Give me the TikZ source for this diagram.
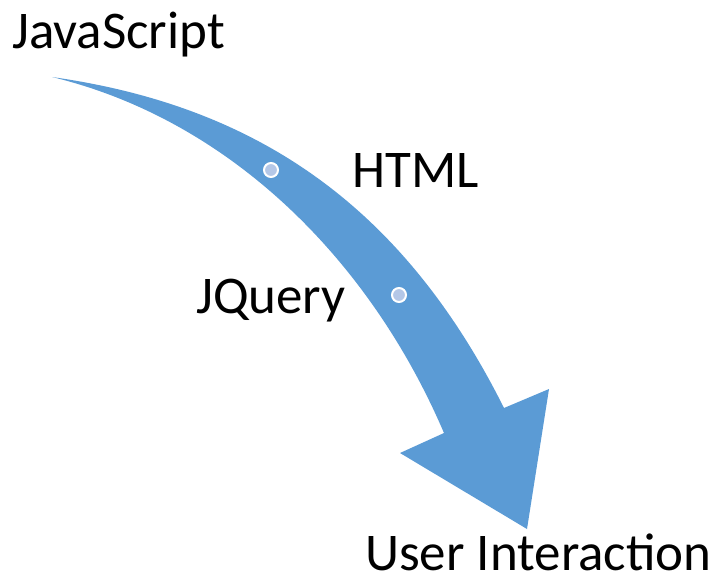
\documentclass[tikz,border=0pt]{standalone}
\usepackage{fontspec}
\setmainfont{Carlito}
\definecolor{arrowblue}{HTML}{5B9BD5}
\definecolor{dotblue}{HTML}{B4C7E7}
\begin{document}
\begin{tikzpicture}[x=1pt,y=-1pt,
  label text/.style={anchor=base west,inner sep=0pt,font=\fontsize{53}{60}\selectfont,text=black},
  stop dot/.style={circle,fill=dotblue,draw=white,line width=2pt,minimum size=14pt,inner sep=0pt}]
  \useasboundingbox (0,0) rectangle (714,576);

  % curved arrow: outer edge, head, inner edge back to the tail point
  \fill[arrowblue]
    (52,77) .. controls (250,105) and (400,200) .. (504,408)
    -- (549,389) -- (527,529) -- (400,453) -- (444,433)
    .. controls (370,260) and (230,120) .. (52,77) -- cycle;

  % stops along the arrow
  \node[stop dot] (d1) at (271,170) {};
  \node[stop dot] (d2) at (399,295) {};

  % labels
  \node[label text] (js) at (12,48) {JavaScript};
  \node[label text] (html) at (352,187) {HTML};
  \node[label text] (jq) at (196,313) {JQuery};
  \node[label text] (ui) at (365,570) {User Interaction};
\end{tikzpicture}
\end{document}
